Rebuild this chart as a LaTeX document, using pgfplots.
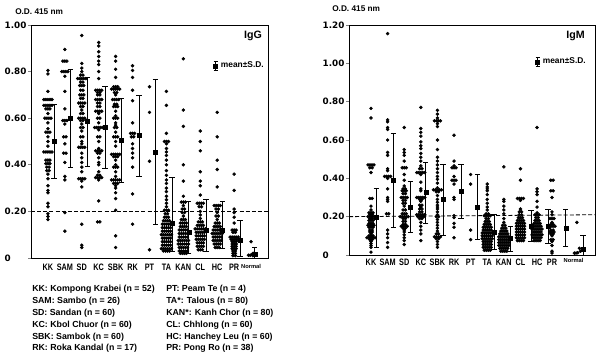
\documentclass[border=0pt]{standalone}
\usepackage{graphicx}
\usepackage{fontspec}
\setmainfont{Liberation Sans}
\newfontfamily\dv{DejaVu Sans}
\usepackage{pgfplots}
\pgfplotsset{compat=1.18}
\newcommand{\nr}[1]{\scalebox{0.78}[1]{#1}}
\pgfplotsset{
  panel/.style={
    scale only axis, clip=false,
    axis line style={line width=0.6pt},
    ytick pos=left, tick align=outside, major tick length=2pt,
    ytick style={line width=0.5pt},
    xtick style={draw=none},
    yticklabel style={font=\dv\bfseries\fontsize{6.6}{7}\selectfont, text width=17pt, align=left, anchor=east, inner sep=0pt, xshift=-0.5pt},
    xticklabel style={font=\bfseries\fontsize{7}{8}\selectfont, anchor=north, inner sep=0pt},
    legend style={draw=none, fill=none, inner sep=0pt, font=\bfseries\fontsize{6.3}{7}\selectfont, legend cell align=left},
  },
  dots/.style={black, only marks, mark=*, mark size=1.1pt, forget plot},
  sdbars/.style={black, only marks, mark=square*, mark size=1.5pt,
    error bars/.cd, y dir=both, y explicit,
    error bar style={line width=0.5pt},
    error mark options={rotate=90, mark size=2pt, line width=0.5pt}},
  sdlegend/.style={legend image code/.code={
    \draw[line width=0.5pt] (0pt,-3.2pt)--(0pt,3.2pt) (-1.6pt,-3.2pt)--(1.6pt,-3.2pt) (-1.6pt,3.2pt)--(1.6pt,3.2pt);
    \fill (-1.5pt,-1.5pt) rectangle (1.5pt,1.5pt);}},
}
\begin{document}
\begin{tikzpicture}
\useasboundingbox (0,0) rectangle (450pt,264pt);
%================ IgG ================
\begin{axis}[panel, at={(23.25pt,70.5pt)}, anchor=south west,
  width=177.75pt, height=174.75pt,
  xmin=0, xmax=14, ymin=0, ymax=1.0,
  ytick={0,0.2,0.4,0.6,0.8,1.0},
  yticklabels={0,0.20,0.40,0.60,0.80,1.00},
  xtick={1,2,3,4,5,6,7,8,9,10,11,12,13},
  xticklabels={\nr{KK},\nr{SAM},\nr{SD},\nr{KC},\nr{SBK},\nr{RK},\nr{PT},\nr{TA},\nr{KAN},\nr{CL},\nr{HC},\nr{PR},{\fontsize{4.3}{5}\selectfont Normal}},
  xticklabel style={yshift=-2.5pt},
  legend style={at={(0.768,0.824)}, anchor=west}]
\addplot[dots] coordinates {
(1,0.805)(1,0.79)(1,0.715)
(0.76,0.68)(0.88,0.68)(1,0.68)(1.12,0.68)(1.24,0.68)
(0.76,0.655)(0.88,0.655)(1,0.655)(1.12,0.655)(1.24,0.655)
(0.88,0.64)(1,0.64)(1.12,0.64)(1,0.62)
(0.82,0.60)(0.94,0.60)(1.06,0.60)(1.18,0.60)
(1,0.58)(1,0.555)(0.88,0.54)(1,0.54)(1.12,0.54)
(1,0.52)(1,0.50)(1,0.48)
(0.76,0.455)(0.88,0.455)(1,0.455)(1.12,0.455)(1.24,0.455)
(0.88,0.42)(1,0.42)(1.12,0.42)(0.88,0.405)(1,0.405)(1.12,0.405)
(0.93,0.39)(1.07,0.39)(0.93,0.375)(1.07,0.375)
(1,0.36)(1,0.34)(1,0.31)(1,0.29)(1,0.28)(1,0.235)(1,0.22)(1,0.19)(1,0.178)(1,0.165)
(2,0.895)(1.88,0.845)(2,0.845)(2.12,0.845)
(1.82,0.80)(1.94,0.80)(2.06,0.80)(2.18,0.80)
(2,0.78)(2,0.715)(2,0.64)(1.88,0.59)(2,0.59)(2.12,0.59)
(2,0.575)(1.93,0.52)(2.07,0.52)(2,0.49)(1.93,0.45)(2.07,0.45)(2,0.41)(2,0.35)(2,0.335)(2,0.195)(2,0.115)
(3,0.955)(3,0.835)(3,0.815)(3,0.80)(2.93,0.785)(3.07,0.785)
(2.76,0.77)(2.88,0.77)(3,0.77)(3.12,0.77)(3.24,0.77)
(2.93,0.755)(3.07,0.755)(2.88,0.74)(3,0.74)(3.12,0.74)
(2.93,0.72)(3.07,0.72)(2.88,0.70)(3,0.70)(3.12,0.70)
(2.93,0.685)(3.07,0.685)(2.82,0.665)(2.94,0.665)(3.06,0.665)(3.18,0.665)
(2.93,0.65)(3.07,0.65)(3,0.635)(2.93,0.62)(3.07,0.62)
(2.82,0.60)(2.94,0.60)(3.06,0.60)(3.18,0.60)(2.93,0.59)(3.07,0.59)
(3,0.575)(2.93,0.56)(3.07,0.56)(3,0.545)(2.93,0.52)(3.07,0.52)(3,0.50)(3,0.49)
(2.82,0.475)(2.94,0.475)(3.06,0.475)(3.18,0.475)
(3,0.45)(3,0.43)(3,0.41)(3,0.39)(3,0.37)
(2.82,0.34)(2.94,0.34)(3.06,0.34)(3.18,0.34)
(3,0.33)(3,0.305)(3,0.145)(3,0.055)(3,0.045)
(4,0.925)(4,0.91)(4,0.885)(4,0.865)(4,0.845)(4,0.83)(4,0.80)(4,0.77)
(3.82,0.72)(3.94,0.72)(4.06,0.72)(4.18,0.72)(3.93,0.71)(4.07,0.71)(3.93,0.70)(4.07,0.70)
(3.82,0.68)(3.94,0.68)(4.06,0.68)(4.18,0.68)(3.93,0.665)(4.07,0.665)(3.93,0.65)(4.07,0.65)
(3.82,0.63)(3.94,0.63)(4.06,0.63)(4.18,0.63)(4,0.62)(3.93,0.60)(4.07,0.60)(4,0.58)
(3.76,0.56)(3.88,0.56)(4,0.56)(4.12,0.56)(4.24,0.56)(4,0.55)
(3.93,0.52)(4.07,0.52)(4,0.50)(4,0.47)
(3.82,0.46)(3.94,0.46)(4.06,0.46)(4.18,0.46)(3.93,0.45)(4.07,0.45)
(4,0.43)(4,0.41)(4,0.40)(4,0.37)(3.93,0.355)(4.07,0.355)
(3.82,0.345)(3.94,0.345)(4.06,0.345)(4.18,0.345)
(4,0.335)(4,0.245)(3.93,0.155)(4.07,0.155)
(5,0.865)(5,0.845)(5,0.81)(5,0.775)(4.88,0.735)(5,0.735)(5.12,0.735)
(4.76,0.725)(4.88,0.725)(5,0.725)(5.12,0.725)(5.24,0.725)
(4.93,0.71)(5.07,0.71)(5,0.70)(4.82,0.68)(4.94,0.68)(5.06,0.68)(5.18,0.68)
(4.93,0.66)(5.07,0.66)(4.88,0.65)(5,0.65)(5.12,0.65)(5,0.63)(5,0.61)
(4.88,0.60)(5,0.60)(5.12,0.60)(5,0.58)(5,0.57)(4.93,0.56)(5.07,0.56)(5,0.54)
(4.88,0.52)(5,0.52)(5.12,0.52)(5,0.50)(5,0.48)
(4.76,0.445)(4.88,0.445)(5,0.445)(5.12,0.445)(5.24,0.445)
(4.88,0.435)(5,0.435)(5.12,0.435)(5,0.42)(5,0.40)
(4.88,0.39)(5,0.39)(5.12,0.39)(5,0.37)(5,0.35)
(4.76,0.335)(4.88,0.335)(5,0.335)(5.12,0.335)(5.24,0.335)
(4.88,0.32)(5,0.32)(5.12,0.32)
(5,0.31)(5,0.30)(5,0.28)(5,0.255)(5,0.205)(5,0.095)(5,0.045)
(6,0.825)(6,0.805)(6,0.775)(6,0.72)(6,0.675)(6,0.58)
(5.88,0.535)(6,0.535)(6.12,0.535)(5.93,0.52)(6.07,0.52)
(6,0.49)(6,0.47)(6,0.45)(6,0.43)(6,0.39)(6,0.275)(6,0.145)
(7,0.735)(7,0.625)(7,0.415)(7,0.035)
(8,0.715)(8,0.655)(8,0.535)(7.88,0.50)(8,0.50)(8.12,0.50)
(8,0.49)(8,0.47)(8,0.455)(8,0.44)(8,0.42)(8,0.40)(8,0.375)(8,0.355)(8,0.335)(8,0.32)(8,0.30)(8,0.285)(8,0.265)(8,0.25)(8,0.235)(8,0.22)
(7.88,0.205)(8,0.205)(8.12,0.205)(7.93,0.19)(8.07,0.19)
(7.88,0.175)(8,0.175)(8.12,0.175)
(7.82,0.16)(7.94,0.16)(8.06,0.16)(8.18,0.16)
(7.76,0.145)(7.88,0.145)(8,0.145)(8.12,0.145)(8.24,0.145)
(7.76,0.13)(7.88,0.13)(8,0.13)(8.12,0.13)(8.24,0.13)
(7.76,0.115)(7.88,0.115)(8,0.115)(8.12,0.115)(8.24,0.115)
(7.7,0.10)(7.82,0.10)(7.94,0.10)(8.06,0.10)(8.18,0.10)(8.3,0.10)
(7.76,0.085)(7.88,0.085)(8,0.085)(8.12,0.085)(8.24,0.085)
(7.76,0.07)(7.88,0.07)(8,0.07)(8.12,0.07)(8.24,0.07)
(7.76,0.055)(7.88,0.055)(8,0.055)(8.12,0.055)(8.24,0.055)
(7.7,0.04)(7.82,0.04)(7.94,0.04)(8.06,0.04)(8.18,0.04)(8.3,0.04)
(7.82,0.03)(7.94,0.03)(8.06,0.03)(8.18,0.03)
(9,0.855)(9,0.635)(9,0.565)(9,0.40)(9,0.33)(9,0.265)
(8.88,0.24)(9,0.24)(9.12,0.24)(9,0.225)(8.93,0.21)(9.07,0.21)(8.93,0.195)(9.07,0.195)(9,0.18)
(8.88,0.165)(9,0.165)(9.12,0.165)
(8.82,0.15)(8.94,0.15)(9.06,0.15)(9.18,0.15)
(8.82,0.135)(8.94,0.135)(9.06,0.135)(9.18,0.135)
(8.76,0.12)(8.88,0.12)(9,0.12)(9.12,0.12)(9.24,0.12)
(8.76,0.105)(8.88,0.105)(9,0.105)(9.12,0.105)(9.24,0.105)
(8.76,0.09)(8.88,0.09)(9,0.09)(9.12,0.09)(9.24,0.09)
(8.7,0.075)(8.82,0.075)(8.94,0.075)(9.06,0.075)(9.18,0.075)(9.3,0.075)
(8.7,0.06)(8.82,0.06)(8.94,0.06)(9.06,0.06)(9.18,0.06)(9.3,0.06)
(8.76,0.045)(8.88,0.045)(9,0.045)(9.12,0.045)(9.24,0.045)
(8.76,0.03)(8.88,0.03)(9,0.03)(9.12,0.03)(9.24,0.03)
(8.82,0.02)(8.94,0.02)(9.06,0.02)(9.18,0.02)
(10,0.545)(10,0.50)(10,0.46)(10,0.37)(10,0.33)(10,0.31)(10,0.27)
(9.82,0.235)(9.94,0.235)(10.06,0.235)(10.18,0.235)
(9.93,0.22)(10.07,0.22)(10,0.20)(10,0.185)(10,0.17)
(9.88,0.155)(10,0.155)(10.12,0.155)
(9.82,0.14)(9.94,0.14)(10.06,0.14)(10.18,0.14)
(9.7,0.125)(9.82,0.125)(9.94,0.125)(10.06,0.125)(10.18,0.125)(10.3,0.125)
(9.76,0.11)(9.88,0.11)(10,0.11)(10.12,0.11)(10.24,0.11)
(9.76,0.095)(9.88,0.095)(10,0.095)(10.12,0.095)(10.24,0.095)
(9.76,0.08)(9.88,0.08)(10,0.08)(10.12,0.08)(10.24,0.08)
(9.82,0.065)(9.94,0.065)(10.06,0.065)(10.18,0.065)
(9.82,0.05)(9.94,0.05)(10.06,0.05)(10.18,0.05)
(9.88,0.035)(10,0.035)(10.12,0.035)
(11,0.625)(11,0.52)(11,0.42)(11,0.38)(11,0.305)
(10.82,0.225)(10.94,0.225)(11.06,0.225)(11.18,0.225)
(10.93,0.21)(11.07,0.21)(11,0.195)(10.93,0.18)(11.07,0.18)(11,0.165)
(10.88,0.15)(11,0.15)(11.12,0.15)
(10.82,0.135)(10.94,0.135)(11.06,0.135)(11.18,0.135)
(10.76,0.12)(10.88,0.12)(11,0.12)(11.12,0.12)(11.24,0.12)
(10.7,0.105)(10.82,0.105)(10.94,0.105)(11.06,0.105)(11.18,0.105)(11.3,0.105)
(10.76,0.09)(10.88,0.09)(11,0.09)(11.12,0.09)(11.24,0.09)
(10.76,0.075)(10.88,0.075)(11,0.075)(11.12,0.075)(11.24,0.075)
(10.82,0.06)(10.94,0.06)(11.06,0.06)(11.18,0.06)
(10.88,0.045)(11,0.045)(11.12,0.045)
(12,0.36)(12,0.29)(12,0.21)(12,0.195)(12,0.175)(12,0.15)
(11.88,0.12)(12,0.12)(12.12,0.12)(11.93,0.11)(12.07,0.11)
(11.76,0.09)(11.88,0.09)(12,0.09)(12.12,0.09)(12.24,0.09)
(11.82,0.08)(11.94,0.08)(12.06,0.08)(12.18,0.08)
(11.88,0.07)(12,0.07)(12.12,0.07)(11.88,0.06)(12,0.06)(12.12,0.06)
(11.88,0.05)(12,0.05)(12.12,0.05)(11.88,0.04)(12,0.04)(12.12,0.04)
(11.93,0.03)(12.07,0.03)(11.93,0.02)(12.07,0.02)(11.93,0.01)(12.07,0.01)
(13,0.07)(12.85,0.012)(12.95,0.012)(13.05,0.015)(13.12,0.02)(13.1,0.01)
};
\addplot[black, line width=0.6pt, dash pattern=on 3pt off 1.6pt, forget plot] coordinates {(0,0.2)(14,0.2)};
\addplot[sdlegend, sdbars] coordinates {
(1.36,0.50) +- (0,0.16)
(2.32,0.60) +- (0,0.21)
(3.32,0.585) +- (0,0.19)
(4.38,0.56) +- (0,0.175)
(5.34,0.505) +- (0,0.18)
(6.37,0.525) +- (0,0.175)
(7.34,0.455) +- (0,0.31)
(8.33,0.15) += (0,0.195) -= (0,0.12)
(9.32,0.11) += (0,0.135) -= (0,0.09)
(10.33,0.12) += (0,0.13) -= (0,0.09)
(11.32,0.12) += (0,0.125) -= (0,0.08)
(12.35,0.075) += (0,0.085) -= (0,0.07)
(13.22,0.015) += (0,0.03) -= (0,0.015)
};
\addlegendentry{mean±S.D.}
\node[anchor=east, inner sep=0pt, font=\bfseries\fontsize{8}{9}\selectfont] at (rel axis cs:0.975,0.953) {IgG};
\node[anchor=west, inner sep=0pt, font=\bfseries\fontsize{6.2}{7}\selectfont] at (rel axis cs:-0.0675,1.056) {O.D. 415 nm};
\end{axis}
%================ IgM ================
\begin{axis}[panel, at={(261.75pt,72.75pt)}, anchor=south west,
  width=184.5pt, height=172.5pt,
  xmin=-0.325, xmax=14.49, ymin=0, ymax=1.2,
  ytick={0,0.2,0.4,0.6,0.8,1.0,1.2},
  yticklabels={0,0.20,0.40,0.60,0.80,1.00,1.20},
  xtick={1,2,3,4,5,6,7,8,9,10,11,11.9,13.2},
  xticklabels={\nr{KK},\nr{SAM},\nr{SD},\nr{KC},\nr{SBK},\nr{RK},\nr{PT},\nr{TA},\nr{KAN},\nr{CL},\nr{HC},\nr{PR},{\fontsize{4.3}{5}\selectfont Normal}},
  xticklabel style={yshift=-0.5pt},
  legend style={at={(0.756,0.839)}, anchor=west}]
\addplot[dots] coordinates {
(1,0.765)(1,0.715)
(0.82,0.47)(0.94,0.47)(1.06,0.47)(1.18,0.47)
(0.93,0.455)(1.07,0.455)(1,0.43)
(0.93,0.295)(1.07,0.295)(1,0.255)(1,0.235)
(0.88,0.22)(1,0.22)(1.12,0.22)(0.93,0.21)(1.07,0.21)
(0.82,0.20)(0.94,0.20)(1.06,0.20)(1.18,0.20)(0.93,0.19)(1.07,0.19)
(0.88,0.18)(1,0.18)(1.12,0.18)(0.88,0.165)(1,0.165)(1.12,0.165)
(0.82,0.155)(0.94,0.155)(1.06,0.155)(1.18,0.155)(0.88,0.145)(1,0.145)(1.12,0.145)
(0.93,0.13)(1.07,0.13)(0.93,0.12)(1.07,0.12)(1,0.11)
(0.88,0.10)(1,0.10)(1.12,0.10)
(0.76,0.09)(0.88,0.09)(1,0.09)(1.12,0.09)(1.24,0.09)
(0.93,0.08)(1.07,0.08)(1,0.07)(1,0.06)(1,0.05)(1,0.04)(1,0.015)
(2,1.155)(2,0.705)(2,0.695)(2,0.665)(2,0.655)(2,0.60)(2,0.535)(2,0.52)(2,0.45)(2,0.44)
(1.82,0.41)(1.94,0.41)(2.06,0.41)(2.18,0.41)
(2,0.40)(2,0.345)(2,0.30)(2,0.29)(2,0.28)(1.93,0.215)(2.07,0.215)(2,0.13)(2,0.11)(2,0.09)(2,0.065)(2,0.04)
(3,0.665)(3,0.55)(3,0.535)(3,0.52)(3,0.49)(2.88,0.455)(3,0.455)(3.12,0.455)
(3,0.42)(3,0.39)(3,0.36)(2.93,0.345)(3.07,0.345)(2.88,0.335)(3,0.335)(3.12,0.335)
(2.93,0.32)(3.07,0.32)(2.82,0.30)(2.94,0.30)(3.06,0.30)(3.18,0.30)
(2.93,0.285)(3.07,0.285)(2.93,0.27)(3.07,0.27)(3,0.255)(2.93,0.235)(3.07,0.235)
(2.88,0.215)(3,0.215)(3.12,0.215)
(2.76,0.20)(2.88,0.20)(3,0.20)(3.12,0.20)(3.24,0.20)
(2.93,0.19)(3.07,0.19)(2.93,0.175)(3.07,0.175)(2.93,0.16)(3.07,0.16)
(2.82,0.15)(2.94,0.15)(3.06,0.15)(3.18,0.15)(2.93,0.14)(3.07,0.14)
(3,0.13)(3,0.12)(3,0.105)(3,0.09)(3,0.075)(3,0.055)
(4,0.77)(4,0.66)(4,0.64)(4,0.62)(4,0.59)(4,0.57)(4,0.555)(4,0.53)(4,0.51)(4,0.49)(4,0.465)
(3.93,0.45)(4.07,0.45)(3.76,0.43)(3.88,0.43)(4,0.43)(4.12,0.43)(4.24,0.43)
(4,0.42)(4,0.38)(4,0.345)(4,0.335)
(3.76,0.30)(3.88,0.30)(4,0.30)(4.12,0.30)(4.24,0.30)
(3.93,0.29)(4.07,0.29)(4,0.28)(3.93,0.26)(4.07,0.26)(4,0.25)
(3.93,0.24)(4.07,0.24)(3.93,0.225)(4.07,0.225)
(3.76,0.21)(3.88,0.21)(4,0.21)(4.12,0.21)(4.24,0.21)
(3.82,0.20)(3.94,0.20)(4.06,0.20)(4.18,0.20)(3.93,0.19)(4.07,0.19)
(4,0.17)(4,0.15)(4,0.13)(4,0.11)(4,0.075)
(5,0.755)(5,0.735)(5,0.715)(4.82,0.70)(4.94,0.70)(5.06,0.70)(5.18,0.70)
(5,0.685)(5,0.67)(5,0.60)(5,0.55)(5,0.51)(5,0.49)(5,0.47)(5,0.45)(5,0.43)(5,0.41)(5,0.395)(5,0.375)(5,0.35)
(4.76,0.34)(4.88,0.34)(5,0.34)(5.12,0.34)(5.24,0.34)(4.93,0.33)(5.07,0.33)
(5,0.31)(5,0.29)(5,0.275)(5,0.26)(5,0.25)(5,0.24)(5,0.225)(5,0.21)(4.93,0.20)(5.07,0.20)
(5,0.185)(5,0.17)(5,0.155)(5,0.14)(5,0.125)(4.93,0.11)(5.07,0.11)
(4.82,0.095)(4.94,0.095)(5.06,0.095)(5.18,0.095)(4.93,0.085)(5.07,0.085)
(5,0.07)(5,0.055)(5,0.04)
(6,0.625)(6,0.49)(6,0.465)(5.88,0.455)(6,0.455)(6.12,0.455)(6,0.41)
(5.88,0.39)(6,0.39)(6.12,0.39)(6,0.37)(6,0.30)(6,0.29)(6,0.205)(6,0.195)(6,0.165)(6,0.145)(6,0.09)
(7,0.42)(7,0.37)(7,0.13)(7,0.08)
(8,0.37)(8,0.355)(8,0.345)(8,0.335)(8,0.315)(8,0.29)(8,0.27)(8,0.25)(8,0.235)
(7.93,0.215)(8.07,0.215)(7.82,0.205)(7.94,0.205)(8.06,0.205)(8.18,0.205)
(7.93,0.19)(8.07,0.19)(7.88,0.175)(8,0.175)(8.12,0.175)
(7.82,0.16)(7.94,0.16)(8.06,0.16)(8.18,0.16)
(7.76,0.145)(7.88,0.145)(8,0.145)(8.12,0.145)(8.24,0.145)
(7.76,0.13)(7.88,0.13)(8,0.13)(8.12,0.13)(8.24,0.13)
(7.7,0.115)(7.82,0.115)(7.94,0.115)(8.06,0.115)(8.18,0.115)(8.3,0.115)
(7.7,0.10)(7.82,0.10)(7.94,0.10)(8.06,0.10)(8.18,0.10)(8.3,0.10)
(7.7,0.085)(7.82,0.085)(7.94,0.085)(8.06,0.085)(8.18,0.085)(8.3,0.085)
(7.76,0.07)(7.88,0.07)(8,0.07)(8.12,0.07)(8.24,0.07)
(7.76,0.055)(7.88,0.055)(8,0.055)(8.12,0.055)(8.24,0.055)
(7.76,0.04)(7.88,0.04)(8,0.04)(8.12,0.04)(8.24,0.04)
(7.82,0.025)(7.94,0.025)(8.06,0.025)(8.18,0.025)
(9,0.46)(9,0.29)(9,0.28)(9,0.255)(9,0.235)(9,0.215)(9,0.19)(9,0.17)(8.93,0.155)(9.07,0.155)
(8.88,0.14)(9,0.14)(9.12,0.14)
(8.82,0.125)(8.94,0.125)(9.06,0.125)(9.18,0.125)
(8.76,0.11)(8.88,0.11)(9,0.11)(9.12,0.11)(9.24,0.11)
(8.7,0.095)(8.82,0.095)(8.94,0.095)(9.06,0.095)(9.18,0.095)(9.3,0.095)
(8.7,0.08)(8.82,0.08)(8.94,0.08)(9.06,0.08)(9.18,0.08)(9.3,0.08)
(8.7,0.065)(8.82,0.065)(8.94,0.065)(9.06,0.065)(9.18,0.065)(9.3,0.065)
(8.7,0.05)(8.82,0.05)(8.94,0.05)(9.06,0.05)(9.18,0.05)(9.3,0.05)
(8.76,0.035)(8.88,0.035)(9,0.035)(9.12,0.035)(9.24,0.035)
(8.82,0.02)(8.94,0.02)(9.06,0.02)(9.18,0.02)
(10,0.45)(10,0.39)(9.82,0.295)(9.94,0.295)(10.06,0.295)(10.18,0.295)
(10,0.285)(10,0.24)(9.93,0.225)(10.07,0.225)(9.93,0.21)(10.07,0.21)
(9.88,0.195)(10,0.195)(10.12,0.195)
(9.82,0.18)(9.94,0.18)(10.06,0.18)(10.18,0.18)
(9.76,0.165)(9.88,0.165)(10,0.165)(10.12,0.165)(10.24,0.165)
(9.76,0.15)(9.88,0.15)(10,0.15)(10.12,0.15)(10.24,0.15)
(9.76,0.135)(9.88,0.135)(10,0.135)(10.12,0.135)(10.24,0.135)
(9.76,0.12)(9.88,0.12)(10,0.12)(10.12,0.12)(10.24,0.12)
(9.76,0.105)(9.88,0.105)(10,0.105)(10.12,0.105)(10.24,0.105)
(9.76,0.09)(9.88,0.09)(10,0.09)(10.12,0.09)(10.24,0.09)
(9.82,0.075)(9.94,0.075)(10.06,0.075)(10.18,0.075)
(11,0.665)(11,0.345)(11,0.33)(11,0.315)(11,0.28)(11,0.25)(11,0.22)
(10.88,0.21)(11,0.21)(11.12,0.21)(10.93,0.195)(11.07,0.195)
(10.88,0.18)(11,0.18)(11.12,0.18)
(10.82,0.165)(10.94,0.165)(11.06,0.165)(11.18,0.165)
(10.76,0.15)(10.88,0.15)(11,0.15)(11.12,0.15)(11.24,0.15)
(10.7,0.135)(10.82,0.135)(10.94,0.135)(11.06,0.135)(11.18,0.135)(11.3,0.135)
(10.76,0.12)(10.88,0.12)(11,0.12)(11.12,0.12)(11.24,0.12)
(10.7,0.105)(10.82,0.105)(10.94,0.105)(11.06,0.105)(11.18,0.105)(11.3,0.105)
(10.76,0.09)(10.88,0.09)(11,0.09)(11.12,0.09)(11.24,0.09)
(10.82,0.075)(10.94,0.075)(11.06,0.075)(11.18,0.075)
(11.83,0.39)(11.97,0.39)(11.83,0.335)(11.97,0.335)(11.9,0.30)(11.9,0.225)(11.9,0.21)
(11.78,0.19)(11.9,0.19)(12.02,0.19)(11.9,0.17)(11.83,0.16)(11.97,0.16)
(11.72,0.15)(11.84,0.15)(11.96,0.15)(12.08,0.15)(11.83,0.13)(11.97,0.13)
(11.78,0.12)(11.9,0.12)(12.02,0.12)(11.83,0.11)(11.97,0.11)(11.9,0.10)
(11.83,0.08)(11.97,0.08)(11.9,0.07)(11.9,0.05)(11.9,0.02)(11.9,0.01)
(13.4,0.17)(13.25,0.01)(13.35,0.01)(13.45,0.012)(13.55,0.035)(13.62,0.02)
};
\addplot[black, line width=0.6pt, dash pattern=on 3pt off 1.6pt, forget plot] coordinates {(-0.325,0.2)(14.49,0.21)};
\addplot[sdlegend, sdbars] coordinates {
(1.32,0.195) +- (0,0.155)
(2.34,0.39) +- (0,0.245)
(3.36,0.25) += (0,0.135) -= (0,0.13)
(4.3,0.325) +- (0,0.16)
(5.34,0.29) += (0,0.185) -= (0,0.19)
(6.42,0.335) += (0,0.14) -= (0,0.145)
(7.42,0.25) +- (0,0.17)
(8.4,0.12) +- (0,0.09)
(9.4,0.085) +- (0,0.065)
(10.64,0.15) += (0,0.085) -= (0,0.08)
(11.66,0.15) +- (0,0.09)
(12.73,0.14) += (0,0.10) -= (0,0.095)
(13.76,0.03) += (0,0.075) -= (0,0.03)
};
\addlegendentry{mean±S.D.}
\node[anchor=east, inner sep=0pt, font=\bfseries\fontsize{8}{9}\selectfont] at (rel axis cs:0.959,0.952) {IgM};
\node[anchor=west, inner sep=0pt, font=\bfseries\fontsize{6.2}{7}\selectfont] at (rel axis cs:-0.069,1.0726) {O.D. 415 nm};
\end{axis}
%================ key ================
\node[anchor=north west, inner sep=0pt, align=left, font=\bfseries\fontsize{6.6}{8.9}\selectfont] at (24pt,50.25pt)
{KK: Kompong Krabei (n = 52)\\SAM: Sambo (n = 26)\\SD: Sandan (n = 60)\\KC: Kbol Chuor (n = 60)\\SBK: Sambok (n = 60)\\RK: Roka Kandal (n = 17)};
\node[anchor=north west, inner sep=0pt, align=left, font=\bfseries\fontsize{6.6}{8.9}\selectfont] at (124.5pt,50.25pt)
{PT: Peam Te (n = 4)\\TA*: Talous (n = 80)\\KAN*: Kanh Chor (n = 80)\\CL: Chhlong (n = 60)\\HC: Hanchey Leu (n = 60)\\PR: Pong Ro (n = 38)};
\end{tikzpicture}
\end{document}
